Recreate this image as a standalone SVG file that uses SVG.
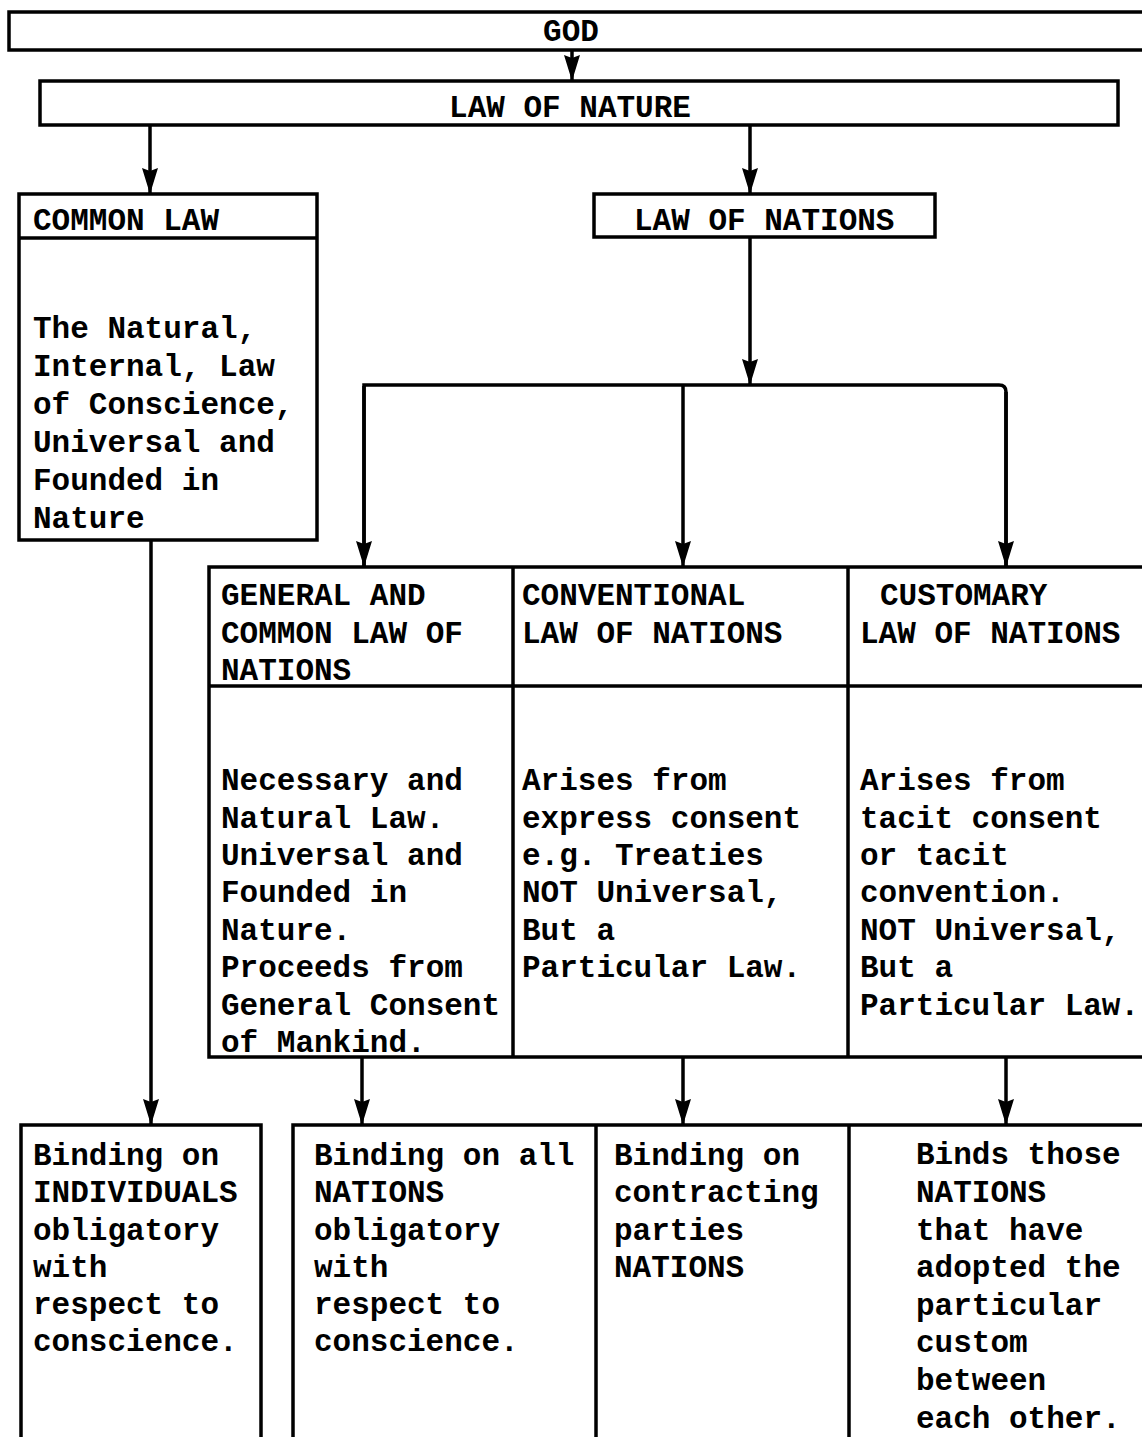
<svg xmlns="http://www.w3.org/2000/svg" width="1142" height="1437" viewBox="0 0 1142 1437">
<defs>
<style>
.box{fill:none;stroke:#000;stroke-width:3.5}
.sep{stroke:#000;stroke-width:3.5;fill:none}
.con{stroke:#000;stroke-width:3.5;fill:none}
text{font-family:"Liberation Mono","Courier New",monospace;font-size:31px;fill:#000;font-weight:bold}
</style>
<marker id="ah" markerUnits="userSpaceOnUse" viewBox="0 0 26 16" markerWidth="26" markerHeight="16" refX="26" refY="8" orient="auto">
<path d="M0,0 L26,8 L0,16 L3,8 z" fill="#000"/>
</marker>
</defs>
<rect width="1142" height="1437" fill="#fff"/>

<g id="god">
<rect class="box" x="9" y="12" width="1150" height="38"/>
<text x="571" y="41" text-anchor="middle">GOD</text>
</g>

<g id="law-of-nature">
<rect class="box" x="40" y="81" width="1078" height="44"/>
<text x="570" y="117" text-anchor="middle">LAW OF NATURE</text>
</g>

<g id="common-law">
<rect class="box" x="19" y="194" width="298" height="346"/>
<line class="sep" x1="19" y1="238" x2="317" y2="238"/>
<text x="33" y="230">COMMON LAW</text>
<text x="33" y="338">The Natural,</text>
<text x="33" y="376">Internal, Law</text>
<text x="33" y="414">of Conscience,</text>
<text x="33" y="452">Universal and</text>
<text x="33" y="490">Founded in</text>
<text x="33" y="528">Nature</text>
</g>

<g id="law-of-nations">
<rect class="box" x="594" y="194" width="341" height="43"/>
<text x="634" y="230">LAW OF NATIONS</text>
</g>

<g id="types-table">
<rect class="box" x="209" y="567" width="950" height="490"/>
<line class="sep" x1="209" y1="686" x2="1159" y2="686"/>
<line class="sep" x1="513" y1="567" x2="513" y2="1057"/>
<line class="sep" x1="848" y1="567" x2="848" y2="1057"/>
</g>

<g id="general-law">
<text x="221" y="605">GENERAL AND</text>
<text x="221" y="643">COMMON LAW OF</text>
<text x="221" y="680">NATIONS</text>
<text x="221" y="790">Necessary and</text>
<text x="221" y="828">Natural Law.</text>
<text x="221" y="865">Universal and</text>
<text x="221" y="902">Founded in</text>
<text x="221" y="940">Nature.</text>
<text x="221" y="977">Proceeds from</text>
<text x="221" y="1015">General Consent</text>
<text x="221" y="1052">of Mankind.</text>
</g>

<g id="conventional-law">
<text x="522" y="605">CONVENTIONAL</text>
<text x="522" y="643">LAW OF NATIONS</text>
<text x="522" y="790">Arises from</text>
<text x="522" y="828">express consent</text>
<text x="522" y="865">e.g. Treaties</text>
<text x="522" y="902">NOT Universal,</text>
<text x="522" y="940">But a</text>
<text x="522" y="977">Particular Law.</text>
</g>

<g id="customary-law">
<text x="880" y="605">CUSTOMARY</text>
<text x="860" y="643">LAW OF NATIONS</text>
<text x="860" y="790">Arises from</text>
<text x="860" y="828">tacit consent</text>
<text x="860" y="865">or tacit</text>
<text x="860" y="902">convention.</text>
<text x="860" y="940">NOT Universal,</text>
<text x="860" y="977">But a</text>
<text x="860" y="1015">Particular Law.</text>
</g>

<g id="binding-individuals">
<rect class="box" x="21" y="1125" width="240" height="330"/>
<text x="33" y="1165">Binding on</text>
<text x="33" y="1202">INDIVIDUALS</text>
<text x="33" y="1240">obligatory</text>
<text x="33" y="1277">with</text>
<text x="33" y="1314">respect to</text>
<text x="33" y="1351">conscience.</text>
</g>

<g id="bottom-table">
<rect class="box" x="293" y="1125" width="866" height="330"/>
<line class="sep" x1="596" y1="1125" x2="596" y2="1455"/>
<line class="sep" x1="849" y1="1125" x2="849" y2="1455"/>
</g>

<g id="binding-all-nations">
<text x="314" y="1165">Binding on all</text>
<text x="314" y="1202">NATIONS</text>
<text x="314" y="1240">obligatory</text>
<text x="314" y="1277">with</text>
<text x="314" y="1314">respect to</text>
<text x="314" y="1351">conscience.</text>
</g>

<g id="binding-contracting">
<text x="614" y="1165">Binding on</text>
<text x="614" y="1202">contracting</text>
<text x="614" y="1240">parties</text>
<text x="614" y="1277">NATIONS</text>
</g>

<g id="binds-adopting">
<text x="916" y="1164">Binds those</text>
<text x="916" y="1202">NATIONS</text>
<text x="916" y="1240">that have</text>
<text x="916" y="1277">adopted the</text>
<text x="916" y="1315">particular</text>
<text x="916" y="1352">custom</text>
<text x="916" y="1390">between</text>
<text x="916" y="1428">each other.</text>
</g>

<g id="connectors">
<line class="con" x1="572" y1="50" x2="572" y2="81" marker-end="url(#ah)"/>
<line class="con" x1="150" y1="125" x2="150" y2="194" marker-end="url(#ah)"/>
<line class="con" x1="750" y1="125" x2="750" y2="194" marker-end="url(#ah)"/>
<line class="con" x1="750" y1="237" x2="750" y2="385" marker-end="url(#ah)"/>
<path class="con" d="M364,567 L364,385 L999,385 Q1006,385 1006,392 L1006,567" />
<line class="con" x1="364" y1="386" x2="364" y2="567" marker-end="url(#ah)"/>
<line class="con" x1="683" y1="385" x2="683" y2="567" marker-end="url(#ah)"/>
<line class="con" x1="1006" y1="392" x2="1006" y2="567" marker-end="url(#ah)"/>
<line class="con" x1="151" y1="540" x2="151" y2="1125" marker-end="url(#ah)"/>
<line class="con" x1="362" y1="1057" x2="362" y2="1125" marker-end="url(#ah)"/>
<line class="con" x1="683" y1="1057" x2="683" y2="1125" marker-end="url(#ah)"/>
<line class="con" x1="1006" y1="1057" x2="1006" y2="1125" marker-end="url(#ah)"/>
</g>
</svg>
